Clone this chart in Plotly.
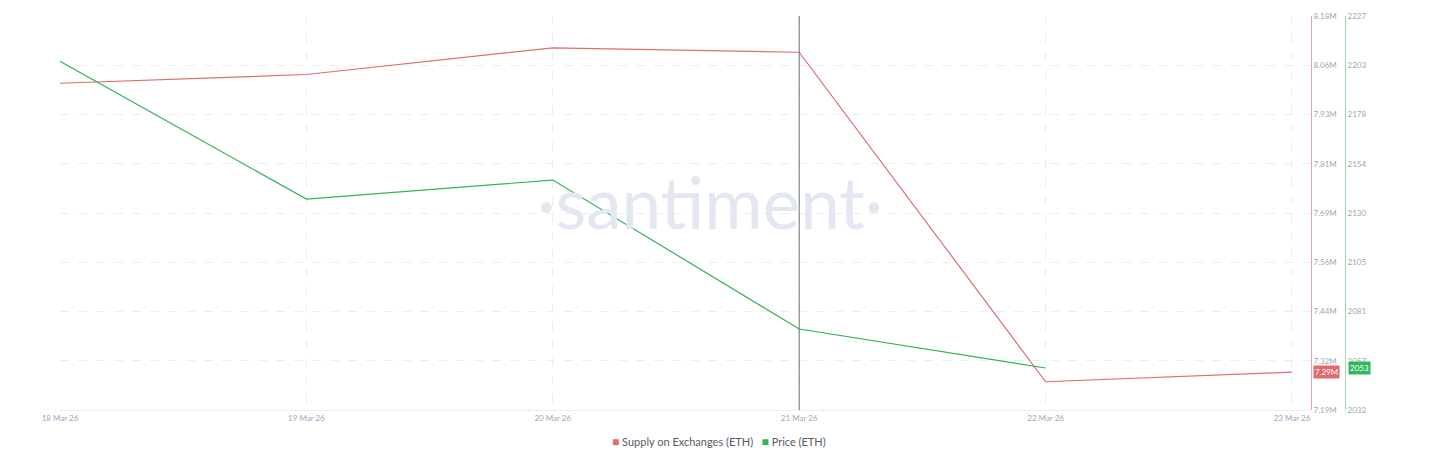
import plotly.graph_objects as go

# data
dates = ["2026-03-18", "2026-03-19", "2026-03-20", "2026-03-21", "2026-03-22", "2026-03-23"]
supply = [8.011e6, 8.033e6, 8.100e6, 8.089e6, 7.261e6, 7.285e6]
price_dates = ["2026-03-18", "2026-03-19", "2026-03-20", "2026-03-21", "2026-03-22"]
price = [2204.6, 2136.4, 2145.8, 2072.1, 2052.8]

x_ticks = dates
x_labels = ["18 Mar 26", "19 Mar 26", "20 Mar 26", "21 Mar 26", "22 Mar 26", "23 Mar 26"]
supply_ticks = [7.19e6, 7.31375e6, 7.4375e6, 7.56125e6, 7.685e6, 7.80875e6, 7.9325e6, 8.05625e6, 8.18e6]
supply_labels = ["7.19M", "7.32M", "7.44M", "7.56M", "7.69M", "7.81M", "7.93M", "8.06M", "8.18M"]
price_ticks = [2032, 2056.375, 2080.75, 2105.125, 2129.5, 2153.875, 2178.25, 2202.625, 2227]
price_labels = ["2032", "2057", "2081", "2105", "2130", "2154", "2178", "2203", "2227"]
series_names = ["Supply on Exchanges (ETH)", "Price (ETH)"]

RED = "#e06c6c"
GREEN = "#33b35a"
TICK = "#9ea6b8"
GRID = "#ebedf1"

fig = go.Figure()
fig.add_trace(go.Scatter(x=dates, y=supply, mode="lines", yaxis="y", name=series_names[0],
                         line=dict(color=RED, width=1.2), showlegend=False))
fig.add_trace(go.Scatter(x=price_dates, y=price, mode="lines", yaxis="y2", name=series_names[1],
                         line=dict(color=GREEN, width=1.2), showlegend=False))

# page body adds an 8px offset, margins compensate for it
fig.update_layout(
    width=1440, height=475,
    paper_bgcolor="white", plot_bgcolor="white",
    margin=dict(l=52, r=60, t=8, b=73),
    font=dict(family="Lato, sans-serif", size=8, color=TICK),
    xaxis=dict(
        domain=[0, 0.942], automargin=False,
        type="date",
        range=["2026-03-18 00:00", "2026-03-23 01:51"],
        tickvals=x_ticks, ticktext=x_labels,
        showgrid=True, gridcolor=GRID, griddash="dash",
        showline=True, linecolor="#eceef2", linewidth=1,
        zeroline=False, ticks="", tickfont=dict(size=8, color=TICK),
    ),
    yaxis=dict(
        side="right", range=[7.19e6, 8.18e6], automargin=False,
        tickvals=supply_ticks, ticktext=supply_labels,
        showgrid=True, gridcolor=GRID, griddash="dash",
        showline=True, linecolor="#eea3a3", linewidth=1,
        zeroline=False, ticks="", tickfont=dict(size=8, color=TICK),
    ),
    yaxis2=dict(
        overlaying="y", side="right", anchor="free", position=0.9676, automargin=False,
        range=[2032, 2227],
        tickvals=price_ticks, ticktext=price_labels,
        showgrid=False, showline=True, linecolor="#9fd8ae", linewidth=1,
        zeroline=False, ticks="", tickfont=dict(size=8, color=TICK),
    ),
    showlegend=False,
)

# compact legend: coloured squares + names
legend_text = (
    f"<span style='color:{RED};font-size:12px'>■</span> {series_names[0]}"
    f"   <span style='color:{GREEN};font-size:12px'>■</span> {series_names[1]}"
)
fig.add_annotation(text=legend_text, xref="paper", yref="paper", x=0.4966, y=-0.0787,
                   xanchor="center", yanchor="middle", showarrow=False,
                   font=dict(family="Lato", size=11, color="#555a66"))

# crosshair at 21 Mar
fig.add_shape(type="line", x0="2026-03-21", x1="2026-03-21", y0=0, y1=1,
              xref="x", yref="paper", line=dict(color="#6b6f78", width=1))

# watermark
fig.add_annotation(text="·santiment·", xref="paper", yref="paper", x=0.4895, y=0.53,
                   showarrow=False, font=dict(family="Lato", size=71, color="#e3e7f1", weight=400))

# last value tags
fig.add_annotation(text="7.29M", xref="paper", yref="y", x=0.9435, y=supply[-1], xanchor="left",
                   showarrow=False, bgcolor="#e36868", font=dict(size=8, color="white"), borderpad=1)
fig.add_annotation(text="2053", xref="paper", yref="y2", x=0.970, y=price[-1], xanchor="left",
                   showarrow=False, bgcolor="#2fb85a", font=dict(size=8, color="white"), borderpad=1)

fig.write_html("out.html")
